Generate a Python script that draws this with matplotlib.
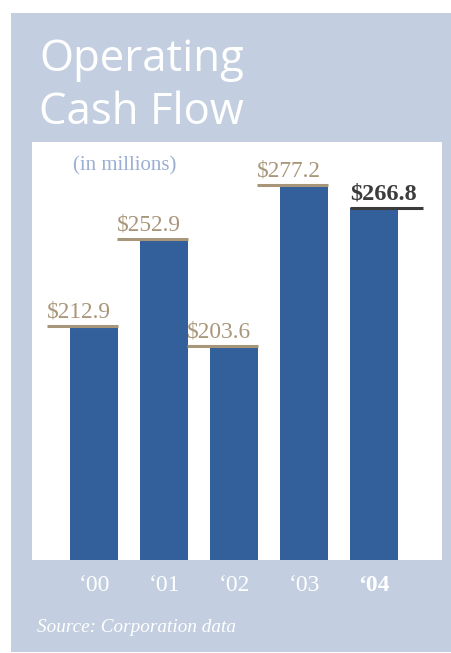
import matplotlib.pyplot as plt
from matplotlib.patches import Rectangle

# Data
years = ["\u201800", "\u201801", "\u201802", "\u201803", "\u201804"]
cash_flow = [212.9, 252.9, 203.6, 277.2, 266.8]
value_labels = ["$212.9", "$252.9", "$203.6", "$277.2", "$266.8"]

panel_color = "#C3CFE0"
bar_color = "#33609A"
tan = "#A8967A"
dark = "#3C3C3C"

W, H = 451, 653
fig = plt.figure(figsize=(W / 100, H / 100), dpi=100)
fig.patch.set_facecolor("white")

# light blue panel behind everything
fig.add_artist(Rectangle((11 / W, 1 - 652 / H), (W - 11) / W, (652 - 13) / H,
                         transform=fig.transFigure, facecolor=panel_color,
                         edgecolor="none", zorder=0))

ax = fig.add_axes([32 / W, 1 - 560 / H, 410 / W, 418 / H])
ax.set_facecolor("white")
ax.set_zorder(1)

x = list(range(len(years)))
ax.bar(x, cash_flow, width=0.686, color=bar_color, zorder=2)
ax.set_xlim(-0.886, 4.97)
ax.set_ylim(106, 297)

for s in ax.spines.values():
    s.set_visible(False)
ax.set_yticks([])
ax.set_xticks(x)
ax.set_xticklabels(years, family="Liberation Serif", fontsize=17, color="white")
ax.get_xticklabels()[-1].set_fontweight("bold")
ax.tick_params(axis="x", length=0, pad=11)

# value labels with underline
for i, (v, lab) in enumerate(zip(cash_flow, value_labels)):
    last = i == len(cash_flow) - 1
    if last:
        x0, x1, col, wt, fs = i - 0.343, i + 0.70, dark, "bold", 17.5
    else:
        x0, x1, col, wt, fs = i - 0.67, i + 0.343, tan, "normal", 16.8
    ax.plot([x0, x1], [v, v], color=col, lw=2.2, solid_capstyle="butt",
            zorder=3, clip_on=False)
    ax.annotate(lab, (x0, v), xytext=(0, 2.5), textcoords="offset points",
                ha="left", va="bottom", family="Liberation Serif",
                fontsize=fs, color=col, fontweight=wt)

ax.text((73 - 32) / 410, 1 - (166 - 142) / 418, "(in millions)", transform=ax.transAxes,
        ha="left", va="center", family="Liberation Serif", fontsize=15,
        color="#9AAFD2")

# title
for txt, base in [("Operating", 71), ("Cash Flow", 124)]:
    fig.text(39 / W, 1 - base / H, txt, family="Open Sans",
             fontsize=31.5, color="white", va="baseline", ha="left")

# source
fig.text(37 / W, 1 - 627 / H, "Source: Corporation data", family="Liberation Serif",
         style="italic", fontsize=13.8, color="white", va="center", ha="left")

fig.savefig("out.png", dpi=100, facecolor="white")
